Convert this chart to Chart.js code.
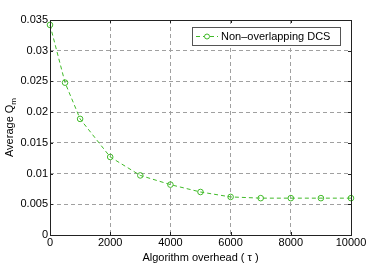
<!DOCTYPE html>
<html>
<head>
<meta charset="utf-8">
<script src="https://cdn.jsdelivr.net/npm/chart.js@4"></script>
<style>
  html, body { margin: 0; padding: 0; background: #fff; }
</style>
</head>
<body>
<canvas id="grafico" width="388" height="265"></canvas>
<script>
// data
const overhead = [0, 500, 1000, 2000, 3000, 4000, 5000, 6000, 7000, 8000, 9000, 10000];
const avgQm = [0.0342, 0.0248, 0.0189, 0.0127, 0.0097, 0.0082, 0.0070, 0.0062, 0.0060, 0.0060, 0.0060, 0.0060];
const xTicks = [0, 2000, 4000, 6000, 8000, 10000];
const yTicks = [0, 0.005, 0.01, 0.015, 0.02, 0.025, 0.03, 0.035];
const yTickLabels = ['0', '0.005', '0.01', '0.015', '0.02', '0.025', '0.03', '0.035'];
const seriesName = 'Non–overlapping DCS';

const green = 'rgb(64,186,40)';
const fontFam = '"Liberation Sans", Arial, sans-serif';

// box, inward ticks, y title with subscript, legend
const matlabLook = {
    id: 'matlabLook',
    afterDraw(chart) {
        const ctx = chart.ctx;
        const a = chart.chartArea;
        const xs = chart.scales.x, ys = chart.scales.y;
        ctx.save();
        ctx.strokeStyle = '#222';
        ctx.lineWidth = 1;
        ctx.setLineDash([]);
        ctx.strokeRect(Math.round(a.left) + 0.5, Math.round(a.top) + 0.5,
            Math.round(a.right - a.left), Math.round(a.bottom - a.top));
        ctx.beginPath();
        xTicks.forEach(v => {
            const px = Math.round(xs.getPixelForValue(v)) + 0.5;
            ctx.moveTo(px, a.bottom); ctx.lineTo(px, a.bottom - 3);
            ctx.moveTo(px, a.top); ctx.lineTo(px, a.top + 3);
        });
        yTicks.forEach(v => {
            const py = Math.round(ys.getPixelForValue(v)) + 0.5;
            ctx.moveTo(a.left, py); ctx.lineTo(a.left + 3, py);
            ctx.moveTo(a.right, py); ctx.lineTo(a.right - 3, py);
        });
        ctx.stroke();

        // y title "Average Q" with subscript m
        ctx.fillStyle = '#000';
        ctx.translate(10, (a.top + a.bottom) / 2);
        ctx.rotate(-Math.PI / 2);
        const main = 'Average Q';
        ctx.font = '11px ' + fontFam;
        const wMain = ctx.measureText(main).width;
        ctx.font = '8px ' + fontFam;
        const wSub = ctx.measureText('m').width;
        const start = -(wMain + wSub) / 2;
        ctx.textBaseline = 'middle';
        ctx.textAlign = 'left';
        ctx.font = '11px ' + fontFam;
        ctx.fillText(main, start, 0);
        ctx.font = '8px ' + fontFam;
        ctx.fillText('m', start + wMain, 4);
        ctx.restore();

        // legend
        ctx.save();
        const lx = 192, ly = 27, lw = 148, lh = 18;
        ctx.fillStyle = '#fff';
        ctx.fillRect(lx, ly, lw, lh);
        ctx.strokeStyle = '#555';
        ctx.lineWidth = 1;
        ctx.strokeRect(lx + 0.5, ly + 0.5, lw, lh);
        const cy = ly + lh / 2 + 0.5;
        ctx.strokeStyle = green;
        ctx.setLineDash([4, 3]);
        ctx.beginPath();
        ctx.moveTo(lx + 4, cy); ctx.lineTo(lx + 26, cy);
        ctx.stroke();
        ctx.setLineDash([]);
        ctx.fillStyle = '#fff';
        ctx.beginPath();
        ctx.arc(lx + 15, cy, 2.5, 0, Math.PI * 2);
        ctx.fill();
        ctx.stroke();
        ctx.fillStyle = '#000';
        ctx.font = '11px ' + fontFam;
        ctx.textBaseline = 'middle';
        ctx.fillText(chart.data.datasets[0].label, lx + 29, cy);
        ctx.restore();
    }
};

const ctx = document.getElementById('grafico').getContext('2d');

new Chart(ctx, {
    type: 'line',
    data: {
        labels: overhead,
        datasets: [{
            label: seriesName,
            data: overhead.map((x, i) => ({ x: x, y: avgQm[i] })),
            borderColor: green,
            borderWidth: 1,
            borderDash: [4, 3],
            backgroundColor: '#fff',
            pointBorderColor: green,
            pointBackgroundColor: 'rgba(255,255,255,0)',
            pointRadius: 2.8,
            pointBorderWidth: 1,
            tension: 0,
            fill: false,
            clip: false
        }]
    },
    options: {
        responsive: false,
        animation: false,
        layout: { padding: { top: 20, right: 37, bottom: 0, left: 0 } },
        plugins: {
            legend: { display: false },
            tooltip: { enabled: false }
        },
        scales: {
            x: {
                type: 'linear',
                min: 0,
                max: 10000,
                afterBuildTicks: s => { s.ticks = xTicks.map(v => ({ value: v })); },
                afterFit: s => { s.height = 30; },
                ticks: {
                    color: '#000',
                    font: { family: fontFam, size: 11 },
                    padding: 1,
                    maxRotation: 0,
                    callback: v => String(v)
                },
                grid: { color: '#a0a0a0', drawTicks: false, lineWidth: 1 },
                border: { display: false, dash: [4, 3] },
                title: {
                    display: true,
                    text: 'Algorithm overhead ( τ )',
                    color: '#000',
                    font: { family: fontFam, size: 11 },
                    padding: { top: 0, bottom: 0 }
                }
            },
            y: {
                min: 0,
                max: 0.035,
                afterBuildTicks: s => { s.ticks = yTicks.map(v => ({ value: v })); },
                afterFit: s => { s.width = 50; },
                ticks: {
                    color: '#000',
                    font: { family: fontFam, size: 11 },
                    padding: 2,
                    callback: (v) => yTickLabels[yTicks.findIndex(t => Math.abs(t - v) < 1e-9)]
                },
                grid: { color: '#a0a0a0', drawTicks: false, lineWidth: 1 },
                border: { display: false, dash: [4, 3] }
            }
        }
    },
    plugins: [matlabLook]
});
</script>
</body>
</html>
